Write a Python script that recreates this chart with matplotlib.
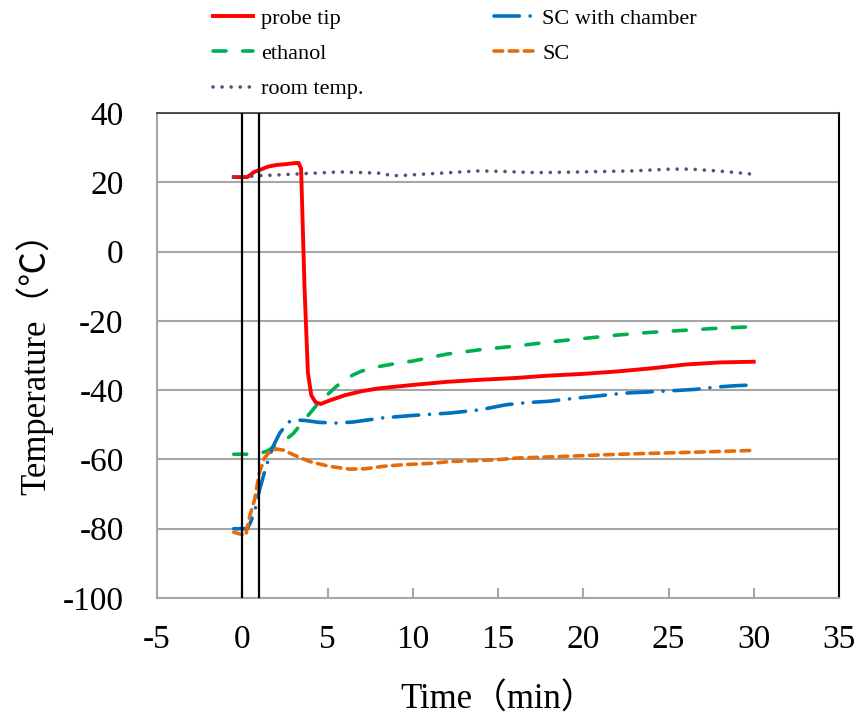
"""
Probe-tip / ethanol / SC temperature trace vs time, with room temperature.
"""

import matplotlib
matplotlib.use('Agg')
import matplotlib.pyplot as plt

FONT = ['Liberation Serif', 'Noto Sans CJK JP', 'DejaVu Sans']
plt.rcParams['font.family'] = FONT
plt.rcParams['axes.unicode_minus'] = False

# ---- data (time in min, temperature in degC) ----
probe_t = [-0.5, 0.3, 0.7, 1.0, 1.5, 2.0, 2.5, 3.0, 3.3, 3.45, 3.65, 3.85, 4.05,
           4.3, 4.6, 5.0, 6.0, 7.0, 8.0, 10.0, 12.0, 14.0, 16.0, 18.0, 20.0,
           22.0, 24.0, 26.0, 28.0, 30.0]
probe_y = [21.5, 21.5, 23.0, 23.5, 24.5, 25.0, 25.2, 25.5, 25.6, 24.0, -10.0,
           -35.0, -41.5, -43.5, -44.0, -43.2, -41.5, -40.3, -39.5, -38.5, -37.6,
           -37.0, -36.5, -35.8, -35.3, -34.6, -33.7, -32.6, -32.0, -31.8]

ethanol_t = [-0.5, 0.5, 1.0, 1.5, 2.0, 2.5, 3.0, 3.5, 4.0, 4.5, 5.0, 5.5, 6.0,
             6.5, 7.0, 8.0, 9.0, 10.0, 12.0, 14.0, 16.0, 18.0, 20.0, 22.0, 24.0,
             26.0, 28.0, 30.0]
ethanol_y = [-58.5, -58.5, -58.3, -57.5, -55.8, -54.5, -52.5, -49.5, -46.5,
             -43.5, -41.3, -39.0, -37.0, -35.6, -34.5, -33.2, -32.3, -31.6,
             -29.6, -28.3, -27.3, -26.1, -25.1, -24.1, -23.3, -22.7, -22.1, -21.7]

room_t = [-0.5, 0.0, 1.0, 2.0, 3.2, 4.5, 5.7, 7.0, 8.25, 8.7, 9.5, 10.8, 12.2,
          13.9, 15.5, 17.1, 19.0, 21.0, 23.0, 25.1, 26.3, 27.8, 29.0, 29.8]
room_y = [21.6, 21.6, 21.9, 22.1, 22.4, 22.7, 23.0, 22.8, 22.6, 21.9, 22.0, 22.4,
          22.8, 23.3, 23.1, 22.8, 22.9, 23.1, 23.3, 23.8, 23.8, 23.3, 22.8, 22.4]

chamber_t = [-0.5, 0.3, 0.5, 0.8, 1.0, 1.4, 1.8, 2.2, 2.7, 3.2, 3.75, 4.5, 5.5,
             6.5, 8.25, 10.0, 12.2, 13.9, 15.5, 16.7, 18.0, 19.6, 21.0, 22.3,
             25.1, 26.5, 27.8, 29.0, 30.0]
chamber_y = [-80.0, -80.0, -78.0, -73.6, -69.0, -62.0, -56.3, -52.4, -49.2,
             -48.6, -48.8, -49.3, -49.5, -49.2, -48.0, -47.3, -46.6, -45.7,
             -44.2, -43.6, -43.2, -42.3, -41.6, -40.9, -40.2, -39.8, -39.1,
             -38.7, -38.5]

sc_t = [-0.5, 0.2, 0.43, 0.72, 1.0, 1.3, 1.6, 2.0, 2.4, 2.8, 3.4, 3.95, 5.1,
        6.3, 7.2, 8.25, 9.5, 11.2, 12.2, 14.9, 16.1, 18.5, 21.0, 23.5, 25.9,
        28.0, 30.0]
sc_y = [-81.0, -82.0, -76.5, -71.7, -64.0, -59.6, -57.8, -57.0, -57.3, -58.2,
        -59.5, -60.6, -62.0, -62.8, -62.7, -62.0, -61.5, -61.1, -60.6, -60.1,
        -59.6, -59.2, -58.7, -58.3, -58.0, -57.7, -57.4]

markers_t = [0, 1]  # vertical reference lines

x_ticks = [-5, 0, 5, 10, 15, 20, 25, 30, 35]
y_ticks = [-100, -80, -60, -40, -20, 0, 20, 40]

# ---- figure ----
fig = plt.figure(figsize=(8.63, 7.22), dpi=100)
ax = fig.add_axes([157 / 863, 1 - 598 / 722, (839 - 157) / 863, (598 - 113) / 722])

LW = 2.6
ax.plot(probe_t, probe_y, color='#FF0000', lw=2.8, label='probe tip', zorder=4)
ax.plot(ethanol_t, ethanol_y, color='#00B050', lw=LW, dashes=(3.6, 4.6),
        dash_capstyle='round', label='ethanol', zorder=3)
ax.plot(room_t, room_y, color='#604A7B', lw=LW, dashes=(0.01, 2.5),
        dash_capstyle='round', label='room temp.', zorder=6)
ax.plot(chamber_t, chamber_y, color='#0070C0', lw=LW, dashes=(7.0, 3.0, 0.01, 3.0),
        dash_capstyle='round', label='SC with chamber', zorder=4)
ax.plot(sc_t, sc_y, color='#E46C0A', lw=LW, dashes=(2.4, 1.8),
        dash_capstyle='round', label='SC', zorder=5)

for t in markers_t:
    ax.axvline(t, color='black', lw=1.6, zorder=7)

ax.set_xlim(-5, 35)
ax.set_ylim(-100, 40)
ax.set_xticks(x_ticks)
ax.set_yticks(y_ticks)
ax.yaxis.grid(True, color='#A6A6A6', lw=1.5)
ax.set_axisbelow(True)

ax.tick_params(axis='x', direction='in', length=7, width=1.5, color='#A6A6A6',
               labelsize=24, pad=19)
ax.tick_params(axis='y', length=0, labelsize=24, pad=24)
for lab in ax.get_xticklabels() + ax.get_yticklabels():
    lab.set_family(FONT)

for side in ('left', 'bottom'):
    ax.spines[side].set_color('#A6A6A6')
    ax.spines[side].set_linewidth(1.5)
ax.spines['top'].set_color('#333333')
ax.spines['top'].set_linewidth(1.2)
ax.spines['right'].set_color('black')
ax.spines['right'].set_linewidth(1.5)

ax.set_xlabel('Time（min）', fontsize=25, family=FONT, labelpad=21)
ax.set_ylabel('Temperature（℃）', fontsize=25, family=FONT, labelpad=7)

handles, labels = ax.get_legend_handles_labels()
fig.legend(handles, labels, ncol=2, loc='upper left',
           bbox_to_anchor=(213 / 863, 1 - 8 / 722), frameon=False,
           handlelength=1.8, handletextpad=0.35,
           columnspacing=5.9, labelspacing=0.67, borderpad=0,
           borderaxespad=0, prop={'family': FONT, 'size': 16})

fig.savefig('out.png', dpi=100)
print('Saved out.png')
